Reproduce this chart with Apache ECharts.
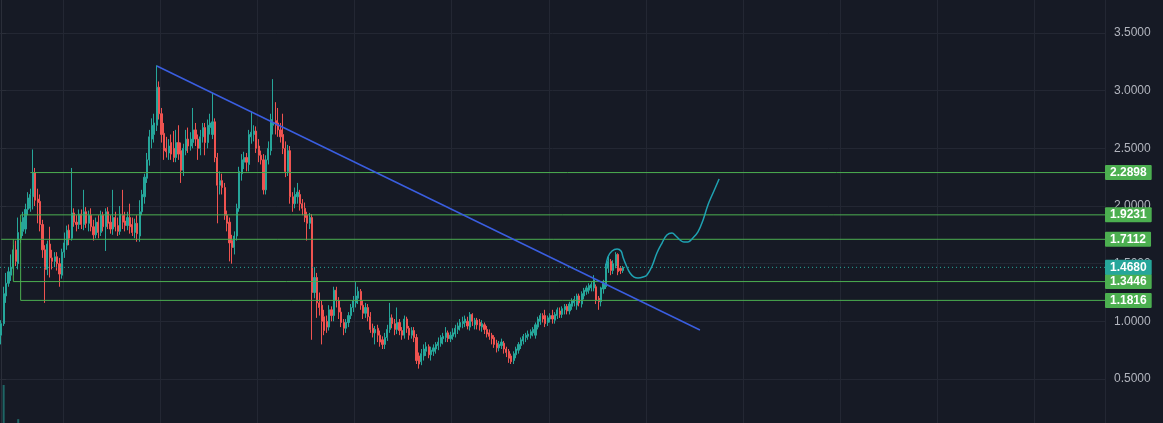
<!DOCTYPE html>
<html><head><meta charset="utf-8">
<script src="https://cdn.jsdelivr.net/npm/echarts@6/dist/echarts.min.js"></script>
<style>html,body{margin:0;padding:0;background:#161a25;}#c{width:1163px;height:423px;}</style>
</head><body><div id="c"></div><script>
// [open, close, low, high] per candle, in price units
const candles = [
[0.88,0.98,0.80,1.01],[0.98,1.24,0.96,1.30],[1.22,1.33,1.16,1.42],[1.33,1.43,1.30,1.47],[1.40,1.47,1.35,1.58],
[1.46,1.62,1.40,1.66],[1.62,1.52,1.48,1.70],[1.50,1.77,1.45,1.90],[1.72,1.86,1.68,1.88],[1.78,1.90,1.74,1.95],
[1.80,1.97,1.76,2.02],[1.97,2.07,1.92,2.12],[1.98,2.10,1.95,2.15],[2.08,2.29,1.97,2.49],[2.29,2.05,2.00,2.33],
[2.06,2.03,1.85,2.15],[2.04,1.84,1.78,2.10],[1.84,1.62,1.55,1.88],[1.62,1.45,1.16,1.66],[1.45,1.67,1.40,1.70],
[1.67,1.55,1.38,1.82],[1.55,1.52,1.45,1.62],[1.52,1.56,1.47,1.60],[1.56,1.50,1.44,1.60],[1.50,1.41,1.30,1.55],
[1.40,1.60,1.37,1.63],[1.60,1.68,1.55,1.77],[1.66,1.79,1.62,1.83],[1.79,1.72,1.66,1.84],[1.72,1.94,1.70,2.33],
[1.94,1.86,1.82,1.98],[1.86,1.84,1.78,1.92],[1.84,1.93,1.80,1.97],[1.93,1.84,1.80,1.97],[1.84,1.95,1.79,2.14],
[1.95,1.85,1.81,1.99],[1.85,1.92,1.78,1.96],[1.92,1.82,1.78,1.98],[1.82,1.75,1.70,1.88],[1.75,1.86,1.72,1.90],
[1.86,1.77,1.72,1.92],[1.77,1.92,1.74,1.96],[1.92,1.82,1.78,1.95],[1.82,1.95,1.61,1.98],[1.95,1.85,1.80,1.99],
[1.86,1.80,1.76,1.92],[1.80,1.90,1.75,2.14],[1.90,1.82,1.78,1.95],[1.83,1.78,1.74,1.90],[1.78,1.93,1.75,2.00],
[1.92,1.86,1.80,2.14],[1.87,1.83,1.78,1.95],[1.83,1.90,1.79,1.95],[1.90,1.82,1.76,2.02],[1.84,1.77,1.74,1.90],
[1.77,1.85,1.72,1.89],[1.85,1.76,1.69,1.92],[1.74,1.95,1.69,2.05],[1.95,2.10,1.92,2.14],[2.08,2.25,2.02,2.28],
[2.24,2.40,2.20,2.46],[2.40,2.60,2.35,2.66],[2.58,2.70,2.50,2.76],[2.62,2.72,2.55,2.80],[2.70,3.03,2.65,3.22],
[3.03,2.80,2.75,3.08],[2.80,2.62,2.55,2.85],[2.63,2.48,2.40,2.72],[2.50,2.47,2.42,2.60],[2.46,2.52,2.40,2.58],
[2.55,2.45,2.40,2.62],[2.50,2.42,2.38,2.65],[2.42,2.55,2.38,2.66],[2.55,2.45,2.40,2.70],[2.48,2.31,2.20,2.55],
[2.31,2.50,2.26,2.54],[2.48,2.58,2.44,2.66],[2.58,2.52,2.46,2.68],[2.52,2.58,2.48,2.64],[2.55,2.66,2.50,2.85],
[2.66,2.58,2.52,2.72],[2.58,2.50,2.40,2.62],[2.50,2.60,2.44,2.66],[2.60,2.68,2.55,2.72],[2.68,2.55,2.44,2.72],
[2.55,2.70,2.50,2.75],[2.68,2.72,2.62,2.80],[2.62,2.73,2.58,2.98],[2.73,2.42,2.38,2.76],[2.42,2.18,1.85,2.46],
[2.18,2.22,2.10,2.30],[2.22,2.16,2.10,2.28],[2.16,1.92,1.88,2.20],[1.92,1.85,1.78,1.96],[1.86,1.68,1.52,1.90],
[1.70,1.64,1.50,1.75],[1.64,1.74,1.58,1.78],[1.74,1.98,1.70,2.02],[1.98,2.30,1.95,2.34],[2.28,2.40,2.22,2.45],
[2.38,2.42,2.32,2.47],[2.42,2.38,2.30,2.46],[2.36,2.62,2.30,2.66],[2.60,2.64,2.54,2.82],[2.62,2.65,2.56,2.70],
[2.65,2.50,2.46,2.69],[2.52,2.44,2.38,2.58],[2.44,2.40,2.36,2.48],[2.40,2.14,2.10,2.45],[2.14,2.40,2.10,2.44],
[2.40,2.50,2.36,2.56],[2.48,2.75,2.44,2.80],[2.70,2.72,2.62,3.10],[2.74,2.70,2.62,2.90],[2.72,2.66,2.60,2.85],
[2.66,2.60,2.55,2.72],[2.62,2.50,2.45,2.80],[2.50,2.30,2.25,2.56],[2.30,2.48,2.26,2.53],[2.48,2.08,2.02,2.52],
[2.08,2.02,1.95,2.12],[2.02,2.10,1.98,2.16],[2.08,2.12,2.02,2.20],[2.10,2.02,1.96,2.14],[2.02,1.98,1.92,2.06],
[1.98,1.90,1.86,2.03],[1.92,1.85,1.70,1.95],[1.85,1.90,1.80,1.94],[1.90,1.25,0.84,1.93],[1.25,1.38,1.20,1.47],
[1.38,1.16,1.03,1.42],[1.16,1.12,1.05,1.25],[1.14,1.00,0.80,1.18],[1.04,0.92,0.88,1.10],[1.00,0.95,0.90,1.05],
[0.95,1.10,0.92,1.14],[1.10,1.05,1.00,1.13],[1.05,1.27,1.00,1.30],[1.27,1.18,1.12,1.30],[1.18,1.08,1.02,1.21],
[1.08,0.99,0.95,1.12],[0.99,0.94,0.88,1.02],[0.94,0.99,0.90,1.02],[0.99,1.05,0.95,1.08],[1.05,1.12,1.02,1.15],
[1.12,1.18,1.08,1.22],[1.16,1.22,1.12,1.34],[1.20,1.26,1.15,1.30],[1.26,1.14,1.10,1.28],[1.14,1.07,1.02,1.18],
[1.07,1.12,1.03,1.16],[1.12,1.04,1.00,1.15],[1.04,0.93,0.90,1.08],[0.94,0.90,0.86,0.98],[0.90,0.93,0.80,0.96],
[0.94,0.88,0.82,0.97],[0.88,0.82,0.78,0.92],[0.84,0.80,0.76,0.87],[0.80,0.86,0.76,0.90],[0.86,0.93,0.83,0.97],
[0.93,1.03,0.90,1.16],[1.03,0.98,0.94,1.06],[0.98,0.93,0.88,1.02],[0.93,0.99,0.89,1.12],[0.99,0.92,0.88,1.02],
[0.92,0.88,0.84,0.95],[0.88,1.02,0.85,1.05],[1.02,0.94,0.90,1.04],[0.94,0.88,0.84,0.96],[0.88,0.92,0.85,0.95],
[0.92,0.86,0.82,0.95],[0.86,0.66,0.63,0.89],[0.70,0.63,0.59,0.73],[0.65,0.72,0.62,0.76],[0.70,0.76,0.66,0.80],
[0.74,0.78,0.70,0.82],[0.78,0.71,0.68,0.80],[0.71,0.75,0.66,0.78],[0.74,0.77,0.70,0.80],[0.76,0.80,0.72,0.82],
[0.79,0.82,0.75,0.86],[0.81,0.86,0.78,0.88],[0.85,0.87,0.80,0.90],[0.86,0.90,0.82,0.95],[0.90,0.85,0.82,0.92],
[0.85,0.88,0.82,0.91],[0.87,0.90,0.84,0.94],[0.89,0.94,0.86,0.97],[0.93,0.96,0.89,0.99],[0.95,0.99,0.92,1.02],
[0.98,1.00,0.94,1.04],[0.99,1.02,0.95,1.05],[1.00,0.96,0.93,1.04],[0.95,1.06,0.92,1.08],[1.06,1.00,0.96,1.07],
[0.97,1.01,0.93,1.03],[1.01,0.97,0.93,1.03],[0.99,0.96,0.92,1.02],[0.95,0.98,0.91,1.01],[0.97,0.93,0.89,0.99],
[0.93,0.89,0.86,0.96],[0.90,0.87,0.84,0.93],[0.88,0.85,0.80,0.90],[0.86,0.80,0.77,0.88],[0.81,0.77,0.73,0.84],
[0.77,0.80,0.74,0.83],[0.79,0.82,0.76,0.85],[0.81,0.76,0.72,0.83],[0.76,0.73,0.69,0.78],[0.74,0.68,0.64,0.76],
[0.70,0.65,0.63,0.72],[0.66,0.72,0.63,0.74],[0.71,0.76,0.68,0.78],[0.75,0.80,0.72,0.82],[0.79,0.84,0.76,0.86],
[0.83,0.87,0.80,0.89],[0.86,0.88,0.82,0.90],[0.87,0.89,0.84,0.92],[0.88,0.91,0.85,0.93],[0.90,0.93,0.87,0.95],
[0.88,0.97,0.85,0.99],[0.95,1.02,0.93,1.04],[1.00,1.05,0.97,1.07],[1.05,1.02,0.99,1.07],[1.05,0.98,0.95,1.10],
[0.99,1.03,0.96,1.05],[1.02,1.05,0.99,1.07],[1.05,1.02,0.98,1.10],[1.01,1.06,0.98,1.08],[1.05,1.10,1.02,1.12],
[1.09,1.06,1.03,1.12],[1.06,1.11,1.03,1.13],[1.10,1.13,1.06,1.15],[1.13,1.09,1.06,1.15],[1.09,1.15,1.06,1.17],
[1.13,1.18,1.10,1.20],[1.16,1.19,1.13,1.22],[1.14,1.22,1.10,1.24],[1.22,1.16,1.13,1.24],[1.15,1.24,1.12,1.26],
[1.22,1.27,1.19,1.29],[1.26,1.29,1.23,1.31],[1.27,1.31,1.24,1.33],[1.29,1.32,1.26,1.34],[1.29,1.36,1.26,1.40],
[1.30,1.18,1.15,1.32],[1.20,1.17,1.10,1.22],[1.17,1.29,1.13,1.30],[1.28,1.33,1.24,1.36],[1.30,1.47,1.28,1.50],
[1.46,1.52,1.42,1.56],[1.52,1.44,1.40,1.54],[1.44,1.50,1.41,1.53],[1.48,1.58,1.46,1.60],[1.58,1.43,1.40,1.59],
[1.46,1.44,1.41,1.48],[1.44,1.468,1.42,1.48]
];
const volumes = [2.4, 11.2, 2.0, 1.6, 2.2, 2.6, 1.9, 3.8, 2.3, 1.5, 2.0, 2.7];
const slotCount = 455;               // candle slots on the time axis (incl. empty future)
const levels = [2.2898, 1.9231, 1.7112, 1.3446, 1.1816];
const levelStart = [12, 8, 0, 5, 8];  // candle index where each level starts
const levelFrom = [null, null, null, 1.7112, 1.9231]; // bracket start level (vertical leg)
const lastPrice = 1.4680;
const trendLine = [[64.1, 3.214], [287.7, 0.925]];
const projection = [[249.0,1.471],[249.8,1.558],[251.5,1.610],[253.6,1.627],[255.2,1.610],[256.0,1.558],
[257.3,1.488],[258.9,1.419],[260.6,1.384],[262.2,1.376],[264.3,1.384],[265.9,1.402],[268.0,1.480],
[270.0,1.593],[272.1,1.679],[274.1,1.749],[276.2,1.766],[277.8,1.740],[279.5,1.705],[281.1,1.688],
[282.8,1.688],[284.8,1.723],[286.9,1.775],[289.0,1.879],[291.0,2.009],[293.1,2.113],[295.6,2.234]];

const UP = '#26a69a', DOWN = '#ef5350', GREEN = '#4caf50', GRID = '#232733';
const slots = Array.from({length: slotCount}, (_, i) => String(i));
const endX = slotCount - 0.5;

const chart = echarts.init(document.getElementById('c'), null, {renderer: 'canvas'});
const tag = (bg, txt) => ({
  show: true, formatter: () => txt, backgroundColor: bg, color: '#ffffff',
  fontWeight: 'bold', fontSize: 12, fontFamily: 'Liberation Sans, Arial, sans-serif',
  padding: [2, 5, 1, 5], distance: 0, borderRadius: 1
});
const series = [
  {type: 'candlestick', xAxisIndex: 0, yAxisIndex: 0, data: candles, barWidth: 1.6, z: 2,
   itemStyle: {color: UP, color0: DOWN, borderColor: UP, borderColor0: DOWN, borderWidth: 1}},
  {type: 'bar', xAxisIndex: 0, yAxisIndex: 1, data: volumes, barWidth: 2, z: 1,
   itemStyle: {color: 'rgba(38,166,154,0.55)'}}
];
levels.forEach((lv, k) => {
  const pts = [];
  if (levelFrom[k] != null) pts.push([levelStart[k], levelFrom[k]]);
  pts.push([levelStart[k], lv], [endX, lv]);
  series.push({type: 'line', xAxisIndex: 1, yAxisIndex: 0, data: pts, symbol: 'none', silent: true, z: 5,
    lineStyle: {color: GREEN, width: 1}, endLabel: tag(GREEN, lv.toFixed(4))});
});
series.push({type: 'line', xAxisIndex: 1, yAxisIndex: 0, data: [[-0.5, lastPrice], [endX, lastPrice]],
  symbol: 'none', silent: true, z: 6, lineStyle: {color: UP, width: 1, type: [1, 3]},
  endLabel: tag(UP, lastPrice.toFixed(4))});
series.push({type: 'line', xAxisIndex: 1, yAxisIndex: 0, data: trendLine, symbol: 'none', silent: true, z: 5,
  lineStyle: {color: '#3a5ee0', width: 1.5}});
series.push({type: 'line', xAxisIndex: 1, yAxisIndex: 0, data: projection, symbol: 'none', smooth: 0.4, silent: true, z: 5,
  lineStyle: {color: '#1fa2b2', width: 1.5}});

chart.setOption({
  backgroundColor: '#161a25',
  animation: false,
  grid: {left: 0, right: 58, top: -24.67, bottom: -13.67, containLabel: false, outerBoundsMode: 'none'},
  xAxis: [
    {type: 'category', data: slots, boundaryGap: true,
     axisLine: {show: false}, axisTick: {show: false}, axisLabel: {show: false},
     splitLine: {show: true, interval: (i) => i % 40 === 26, lineStyle: {color: GRID, width: 1}}},
    {type: 'value', min: -0.5, max: endX, show: false}
  ],
  yAxis: [
    {type: 'value', position: 'right', min: 0, max: 4, interval: 0.5,
     axisLine: {show: true, lineStyle: {color: '#2a2e39'}},
     axisTick: {show: true, length: 5, lineStyle: {color: '#2a2e39'}},
     axisLabel: {color: '#b2b5be', fontSize: 12, margin: 9, fontFamily: 'Liberation Sans, Arial, sans-serif',
       formatter: (v) => v.toFixed(4)},
     splitLine: {show: true, lineStyle: {color: GRID, width: 1}}},
    {type: 'value', min: 0, max: 100, show: false}
  ],
  series: series
});
</script></body></html>
